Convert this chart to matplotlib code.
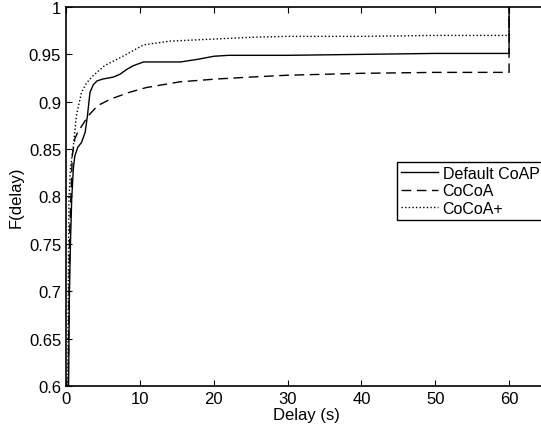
import matplotlib
matplotlib.use("Agg")
import matplotlib.pyplot as plt
from matplotlib.ticker import FormatStrFormatter

plt.rcParams['font.family'] = ['Liberation Sans', 'DejaVu Sans']

# Default CoAP
coap_x = [0.35, 0.45, 0.6, 0.77, 1.0, 1.2, 1.6, 2.1, 2.6, 2.9, 3.25, 3.7, 4.2, 5.0, 6.4, 7.3, 8.2, 9.1, 10.5, 15.5, 18.0, 20.0, 22.0, 30.0, 40.0, 50.0, 60.0, 60.0]
coap_y = [0.60, 0.69, 0.75, 0.797, 0.83, 0.843, 0.852, 0.857, 0.868, 0.885, 0.910, 0.918, 0.922, 0.924, 0.926, 0.929, 0.934, 0.938, 0.942, 0.942, 0.945, 0.948, 0.949, 0.949, 0.950, 0.951, 0.951, 1.0]

# CoCoA
cocoa_x = [0.3, 0.4, 0.5, 0.65, 0.85, 1.2, 1.6, 2.1, 3.0, 4.3, 6.1, 8.6, 10.9, 15.4, 20.4, 24.9, 30.0, 40.0, 50.0, 60.0, 60.0]
cocoa_y = [0.60, 0.69, 0.76, 0.797, 0.843, 0.861, 0.868, 0.874, 0.885, 0.896, 0.903, 0.910, 0.915, 0.921, 0.924, 0.926, 0.928, 0.930, 0.931, 0.931, 1.0]

# CoCoA+
cocoap_x = [0.25, 0.3, 0.4, 0.6, 0.95, 1.4, 2.1, 2.8, 3.6, 5.2, 7.7, 10.5, 14.1, 19.6, 25.0, 30.0, 40.0, 50.0, 60.0, 60.0]
cocoap_y = [0.60, 0.69, 0.797, 0.83, 0.850, 0.885, 0.910, 0.920, 0.927, 0.938, 0.948, 0.960, 0.964, 0.966, 0.968, 0.969, 0.969, 0.970, 0.970, 1.0]

labels = ['Default CoAP', 'CoCoA', 'CoCoA+']
xticks = [0, 10, 20, 30, 40, 50, 60]
yticks = [0.6, 0.65, 0.7, 0.75, 0.8, 0.85, 0.9, 0.95, 1.0]

fig = plt.figure(figsize=(5.41, 4.27), dpi=100)
ax = fig.add_axes([66/541, 1 - 387/427, 480/541, (387 - 8)/427])

ax.plot(coap_x, coap_y, color='black', lw=1.0, ls='-', label=labels[0])
ax.plot(cocoa_x, cocoa_y, color='black', lw=1.0, ls=(0, (7, 4)), label=labels[1])
ax.plot(cocoap_x, cocoap_y, color='black', lw=1.0, ls=(0, (1, 1.6)), label=labels[2])

ax.set_xlim(0, 65)
ax.set_ylim(0.6, 1.0)
ax.set_xticks(xticks)
ax.set_yticks(yticks)
ax.yaxis.set_major_formatter(FormatStrFormatter('%g'))
ax.tick_params(direction='in', top=True, right=False, length=4, width=0.8, labelsize=12)
for s in ax.spines.values():
    s.set_linewidth(1.2)

ax.set_xlabel('Delay (s)', fontsize=12, labelpad=1)
ax.set_ylabel('F(delay)', fontsize=12, labelpad=4)

leg = ax.legend(loc='upper left', bbox_to_anchor=(397/541, 1 - 163/427), bbox_transform=fig.transFigure,
                fancybox=False, edgecolor='black', framealpha=1, fontsize=11.5,
                handlelength=2.3, handletextpad=0.3, borderpad=0.25, labelspacing=0.15, borderaxespad=0)
leg.get_frame().set_linewidth(1.0)

fig.savefig('out.png', dpi=100)
